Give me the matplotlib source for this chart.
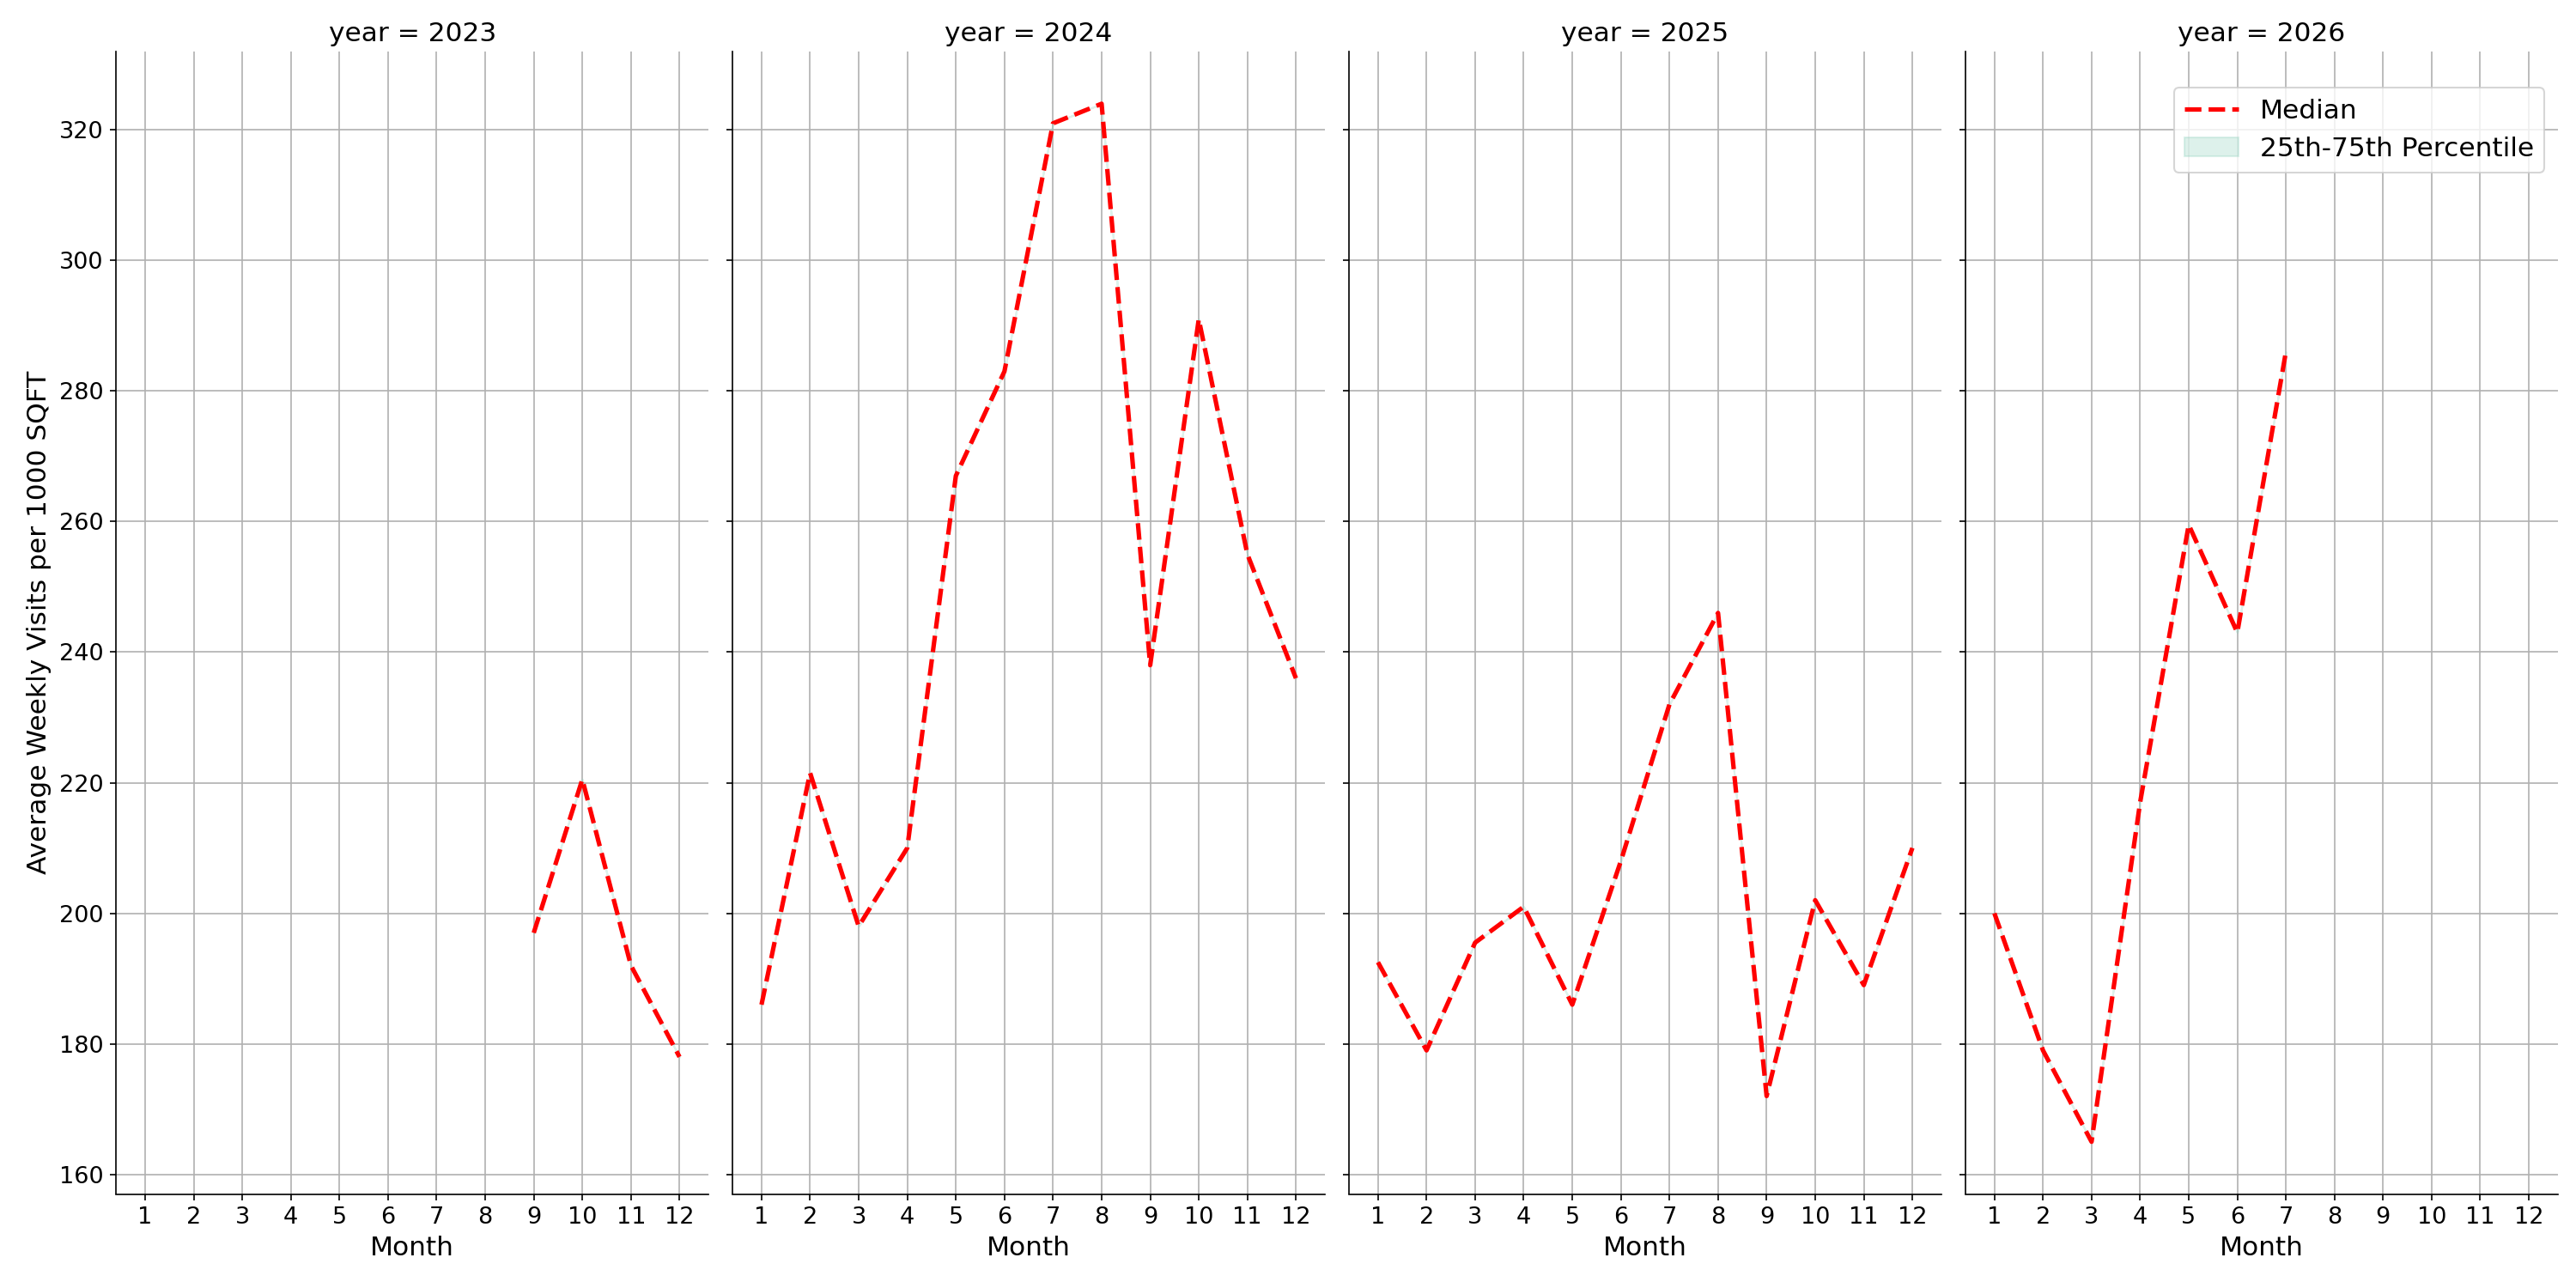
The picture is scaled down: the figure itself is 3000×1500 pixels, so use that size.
import matplotlib
matplotlib.use("Agg")
import matplotlib.pyplot as plt
import numpy as np

years = [2023, 2024, 2025, 2026]
months = {
    2023: [9, 10, 11, 12],
    2024: list(range(1, 13)),
    2025: list(range(1, 13)),
    2026: [1, 2, 3, 4, 5, 6, 7],
}
medians = {
    2023: [197, 220.5, 192, 178],
    2024: [186, 221.5, 198, 210, 267, 283, 321, 324, 238, 291, 255, 236],
    2025: [192.5, 179, 195.5, 201, 186, 208, 232, 246, 172, 202, 189, 210],
    2026: [200, 179, 165, 217, 259.5, 243, 286],
}
month_ticks = list(range(1, 13))

fig, axes = plt.subplots(1, 4, figsize=(20, 10), dpi=150, sharey=True)
fig.subplots_adjust(left=0.045, right=0.993, top=0.96, bottom=0.073, wspace=0.04)
for ax, y in zip(axes, years):
    ax.plot(months[y], medians[y], color="red", ls="--", lw=2.5, label="Median")
    ax.fill_between(months[y], medians[y], medians[y], color="#8fd3bf", alpha=0.3,
                    label="25th-75th Percentile")
    ax.set_title(f"year = {y}", fontsize=15)
    ax.set_xticks(month_ticks)
    ax.set_xlim(0.4, 12.6)
    ax.set_ylim(157, 332)
    ax.set_yticks(range(160, 330, 20))
    ax.grid(True, color="#b0b0b0", lw=0.8)
    ax.set_axisbelow(True)
    ax.spines["top"].set_visible(False)
    ax.spines["right"].set_visible(False)
    ax.tick_params(labelsize=13)
    ax.set_xlabel("Month", fontsize=15)
axes[0].set_ylabel("Average Weekly Visits per 1000 SQFT", fontsize=15)
axes[3].legend(loc="upper right", fontsize=15, bbox_to_anchor=(1.0, 0.98))
fig.savefig("out.png")
